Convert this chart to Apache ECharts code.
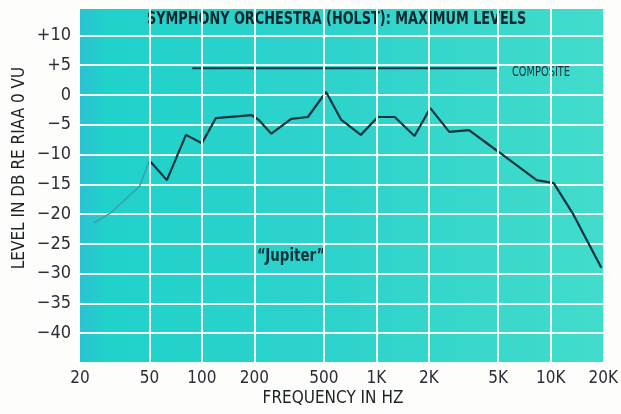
<!DOCTYPE html>
<html>
<head>
<meta charset="utf-8">
<script src="https://cdn.jsdelivr.net/npm/echarts@6/dist/echarts.min.js"></script>
<style>
  html, body { margin: 0; padding: 0; background: #fdfdfb; }
  #chart { width: 621px; height: 414px; }
</style>
</head>
<body>
<div id="chart"></div>
<script>
// Frequency axis ticks (Hz) and level axis ticks (dB)
const freqTicks = [20, 50, 100, 200, 500, 1000, 2000, 5000, 10000, 20000];
const levelTicks = [10, 5, 0, -5, -10, -15, -20, -25, -30, -35, -40];

// Low-frequency lead-in, printed pale
const leadFreq = [24, 30, 44, 50];
const leadLevel = [-21.5, -19.8, -15.3, -11];

// "Jupiter" maximum levels
const jupiterFreq = [50, 63, 81, 100, 120, 193, 212, 250, 325, 405, 515, 630, 815, 1020, 1275, 1655, 2040, 2620, 3400, 5100, 8300, 10400, 13500, 19500];
const jupiterLevel = [-11, -14.3, -6.7, -8.1, -3.9, -3.4, -4.2, -6.5, -4.0, -3.7, 0.5, -4.2, -6.7, -3.7, -3.7, -6.9, -2.2, -6.2, -5.9, -9.7, -14.3, -14.8, -20.1, -29.0];

// Composite level
const compositeFreq = [88, 4900];
const compositeLevel = [4.5, 4.5];

const FONT = "'DejaVu Sans Condensed', 'Liberation Sans', sans-serif";
const pair = (xs, ys) => xs.map((x, i) => [x, ys[i]]);

function freqLabel(v) {
  return v >= 1000 ? (v / 1000) + 'K' : String(v);
}
function levelLabel(v) {
  if (v < levelTicks[levelTicks.length - 1] || v > levelTicks[0]) return '';
  if (v > 0) return '+' + v;
  if (v < 0) return '\u2212' + (-v);
  return '0';
}

const chart = echarts.init(document.getElementById('chart'), null, { renderer: 'canvas' });

chart.setOption({
  animation: false,
  grid: {
    left: 80, right: 14, top: 8, bottom: 51,
    show: true,
    borderWidth: 0,
    backgroundColor: new echarts.graphic.LinearGradient(0, 0, 1, 0, [
      { offset: 0, color: '#2cc2d2' },
      { offset: 0.05, color: '#20d2ca' },
      { offset: 0.5, color: '#2ed3cc' },
      { offset: 1, color: '#42dccb' }
    ])
  },
  xAxis: {
    type: 'log',
    logBase: 10,
    min: 20,
    max: 20000,
    axisLine: { show: false },
    axisTick: { show: false },
    splitLine: { show: false },
    axisLabel: {
      customValues: freqTicks,
      formatter: freqLabel,
      margin: 7,
      color: '#2b2d38',
      fontFamily: FONT,
      fontSize: 17
    }
  },
  yAxis: {
    type: 'value',
    min: -45,
    max: 14.6,
    interval: 5,
    axisLine: { show: false },
    axisTick: { show: false },
    splitLine: { show: true, lineStyle: { color: '#f2fffb', width: 2 } },
    axisLabel: {
      formatter: levelLabel,
      margin: 9,
      color: '#2b2d38',
      fontFamily: FONT,
      fontSize: 18
    }
  },
  series: [
    {
      // vertical grid lines at the frequency ticks
      type: 'line',
      data: [],
      silent: true,
      markLine: {
        silent: true,
        symbol: 'none',
        label: { show: false },
        lineStyle: { color: '#f2fffb', width: 2, type: 'solid' },
        data: freqTicks.slice(1, -1).map(f => ({ xAxis: f }))
      }
    },
    {
      type: 'line',
      data: pair(leadFreq, leadLevel),
      symbol: 'none',
      lineStyle: { color: '#3f9fb2', width: 1.6 },
      z: 3
    },
    {
      type: 'line',
      data: pair(jupiterFreq, jupiterLevel),
      symbol: 'none',
      lineStyle: { color: '#0f3440', width: 2.2 },
      z: 4
    },
    {
      type: 'line',
      data: pair(compositeFreq, compositeLevel),
      symbol: 'none',
      lineStyle: { color: '#12394a', width: 2 },
      z: 4
    }
  ],
  graphic: [
    {
      type: 'text', x: 147, y: 20, scaleX: 0.84,
      style: { text: 'SYMPHONY ORCHESTRA (HOLST): MAXIMUM LEVELS', font: 'bold 17px ' + FONT, fill: '#13252a', verticalAlign: 'middle' }
    },
    {
      type: 'text', x: 512, y: 72, scaleX: 0.78,
      style: { text: 'COMPOSITE', font: '14px ' + FONT, fill: '#1a3038', verticalAlign: 'middle' }
    },
    {
      type: 'text', x: 257, y: 257, scaleX: 0.88,
      style: { text: '\u201CJupiter\u201D', font: 'bold 17px ' + FONT, fill: '#13303a', verticalAlign: 'middle' }
    },
    {
      type: 'text', x: 20, y: 168, rotation: Math.PI / 2,
      style: { text: 'LEVEL IN DB RE RIAA 0 VU', font: '17px ' + FONT, fill: '#1c2326', align: 'center', verticalAlign: 'middle' }
    },
    {
      type: 'text', x: 333, y: 399,
      style: { text: 'FREQUENCY IN HZ', font: '17px ' + FONT, fill: '#1c2326', align: 'center', verticalAlign: 'middle' }
    }
  ]
});
</script>
</body>
</html>
